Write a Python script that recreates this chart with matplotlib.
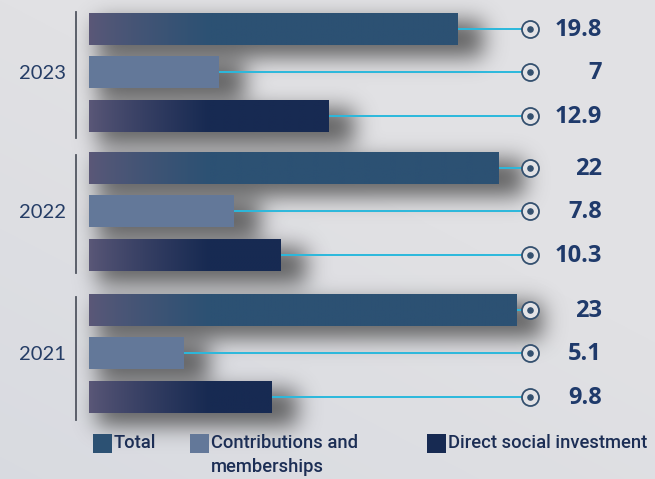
import numpy as np
import matplotlib
matplotlib.use("Agg")
import matplotlib.pyplot as plt
from matplotlib.patches import Rectangle
from matplotlib.colors import LinearSegmentedColormap, to_rgb

years = ["2023", "2022", "2021"]
series = ["Total", "Contributions and\nmemberships", "Direct social investment"]
values = {
    "2023": [19.8, 7, 12.9],
    "2022": [22, 7.8, 10.3],
    "2021": [23, 5.1, 9.8],
}
value_labels = {
    "2023": ["19.8", "7", "12.9"],
    "2022": ["22", "7.8", "10.3"],
    "2021": ["23", "5.1", "9.8"],
}
colors = ["#2c5173", "#637899", "#172a52"]
grad_start = "#5b5878"

W, H = 655, 479
DPI = 100
fig = plt.figure(figsize=(W / DPI, H / DPI), dpi=DPI)
ax = fig.add_axes([0, 0, 1, 1])
ax.set_axis_off()

PX_PER_UNIT = 18.6
X0_PX = 89
xmin = -X0_PX / PX_PER_UNIT
xmax = (W - X0_PX) / PX_PER_UNIT
SLOT = 44.0  # px per y unit
ax.set_xlim(xmin, xmax)
ax.set_ylim(H / SLOT, 0)

# background
yy, xx = np.mgrid[0:H, 0:W]
base = np.array(to_rgb("#e1e1e4"))
blue = np.array(to_rgb("#d5d8df"))
t = np.clip((yy / H) * 0.7 + (1 - xx / W) * 0.5 - 0.5, 0, 1)[..., None]
bg = base * (1 - t) + blue * t
ax.imshow(bg, extent=(xmin, xmax, H / SLOT, 0), aspect="auto", zorder=0)

group_start = [29 / SLOT, 168 / SLOT, 310 / SLOT]
offsets = [0, 0.97, 1.98]
bar_h = 32 / SLOT
circle_x = (530 - X0_PX) / PX_PER_UNIT
label_x = (602 - X0_PX) / PX_PER_UNIT

# shadow mask
fig.canvas.draw()
mask = np.zeros((H, W))
bars = []
for g, yr in enumerate(years):
    for i, v in enumerate(values[yr]):
        yc = group_start[g] + offsets[i]
        bars.append((yc, v, i))
        p0 = ax.transData.transform((0, yc - bar_h / 2))
        p1 = ax.transData.transform((v, yc + bar_h / 2))
        x_a, x_b = int(p0[0]) + 8, int(p1[0]) + 26
        y_top = H - int(p0[1]) + 8
        y_bot = H - int(p1[1]) + 12
        r0, r1 = min(y_top, y_bot), max(y_top, y_bot)
        mask[max(r0, 0):min(r1, H), max(x_a, 0):min(x_b, W)] = 1


def blur(a, s):
    k = np.arange(-3 * s, 3 * s + 1)
    ker = np.exp(-k ** 2 / (2 * s * s))
    ker /= ker.sum()
    a = np.apply_along_axis(lambda r: np.convolve(r, ker, mode="same"), 1, a)
    a = np.apply_along_axis(lambda c: np.convolve(c, ker, mode="same"), 0, a)
    return a


sh = blur(mask, 11)
shadow = np.zeros((H, W, 4))
shadow[..., :3] = 0.25
shadow[..., 3] = np.clip(sh * 0.8, 0, 1)
ax.imshow(shadow, extent=(xmin, xmax, H / SLOT, 0), aspect="auto", zorder=1)

# bars
for yc, v, i in bars:
    c = colors[i]
    if i == 1:
        ax.add_patch(Rectangle((0, yc - bar_h / 2), v, bar_h, facecolor=c,
                               edgecolor="none", zorder=3))
    else:
        gw = 120 / PX_PER_UNIT
        frac = np.clip(np.linspace(0, v, 256) / gw, 0, 1) ** 0.8
        cmap = LinearSegmentedColormap.from_list("g", [grad_start, c])
        ax.imshow(frac[None, :], cmap=cmap, vmin=0, vmax=1,
                  extent=(0, v, yc + bar_h / 2, yc - bar_h / 2),
                  aspect="auto", zorder=3, interpolation="bilinear")
    ax.plot([v, circle_x], [yc, yc], color="#2bb8dc", lw=1.4, zorder=2,
            solid_capstyle="butt")

for g, yr in enumerate(years):
    for i, v in enumerate(values[yr]):
        yc = group_start[g] + offsets[i]
        ax.scatter([circle_x], [yc], s=150, facecolor="#e3e3e6",
                   edgecolor="#34506f", linewidth=1.3, zorder=5)
        ax.scatter([circle_x], [yc], s=14, color="#34506f", zorder=6)
        ax.text(label_x, yc + 0.02, value_labels[yr][i], ha="right",
                va="center", fontsize=17, fontweight="bold",
                family="Open Sans", color="#1f3a6b", zorder=6)
    ymid = group_start[g] + offsets[1] + 0.05
    ax.text(-47 / PX_PER_UNIT, ymid, yr, ha="center", va="center",
            fontsize=14.5, family="Lato", color="#253d66", zorder=6)

# vertical separators
seps = [(12, 138), (155, 273), (297, 420)]
for a, b in seps:
    ax.plot([-13 / PX_PER_UNIT] * 2, [a / SLOT, b / SLOT], color="#505560",
            lw=1.3, zorder=4)

# legend
leg_x = [93, 190, 427]
for i, name in enumerate(series):
    fig.patches.append(Rectangle((leg_x[i] / W, 1 - 453 / H), 19 / W, 19 / H,
                                 transform=fig.transFigure,
                                 facecolor=colors[i], edgecolor="none"))
    fig.text((leg_x[i] + 21) / W, 1 - 434 / H, name, ha="left", va="top",
             fontsize=13.2, family="Roboto", fontweight="medium",
             color="#1c2e55", linespacing=1.45)

fig.savefig("out.png", dpi=DPI)
